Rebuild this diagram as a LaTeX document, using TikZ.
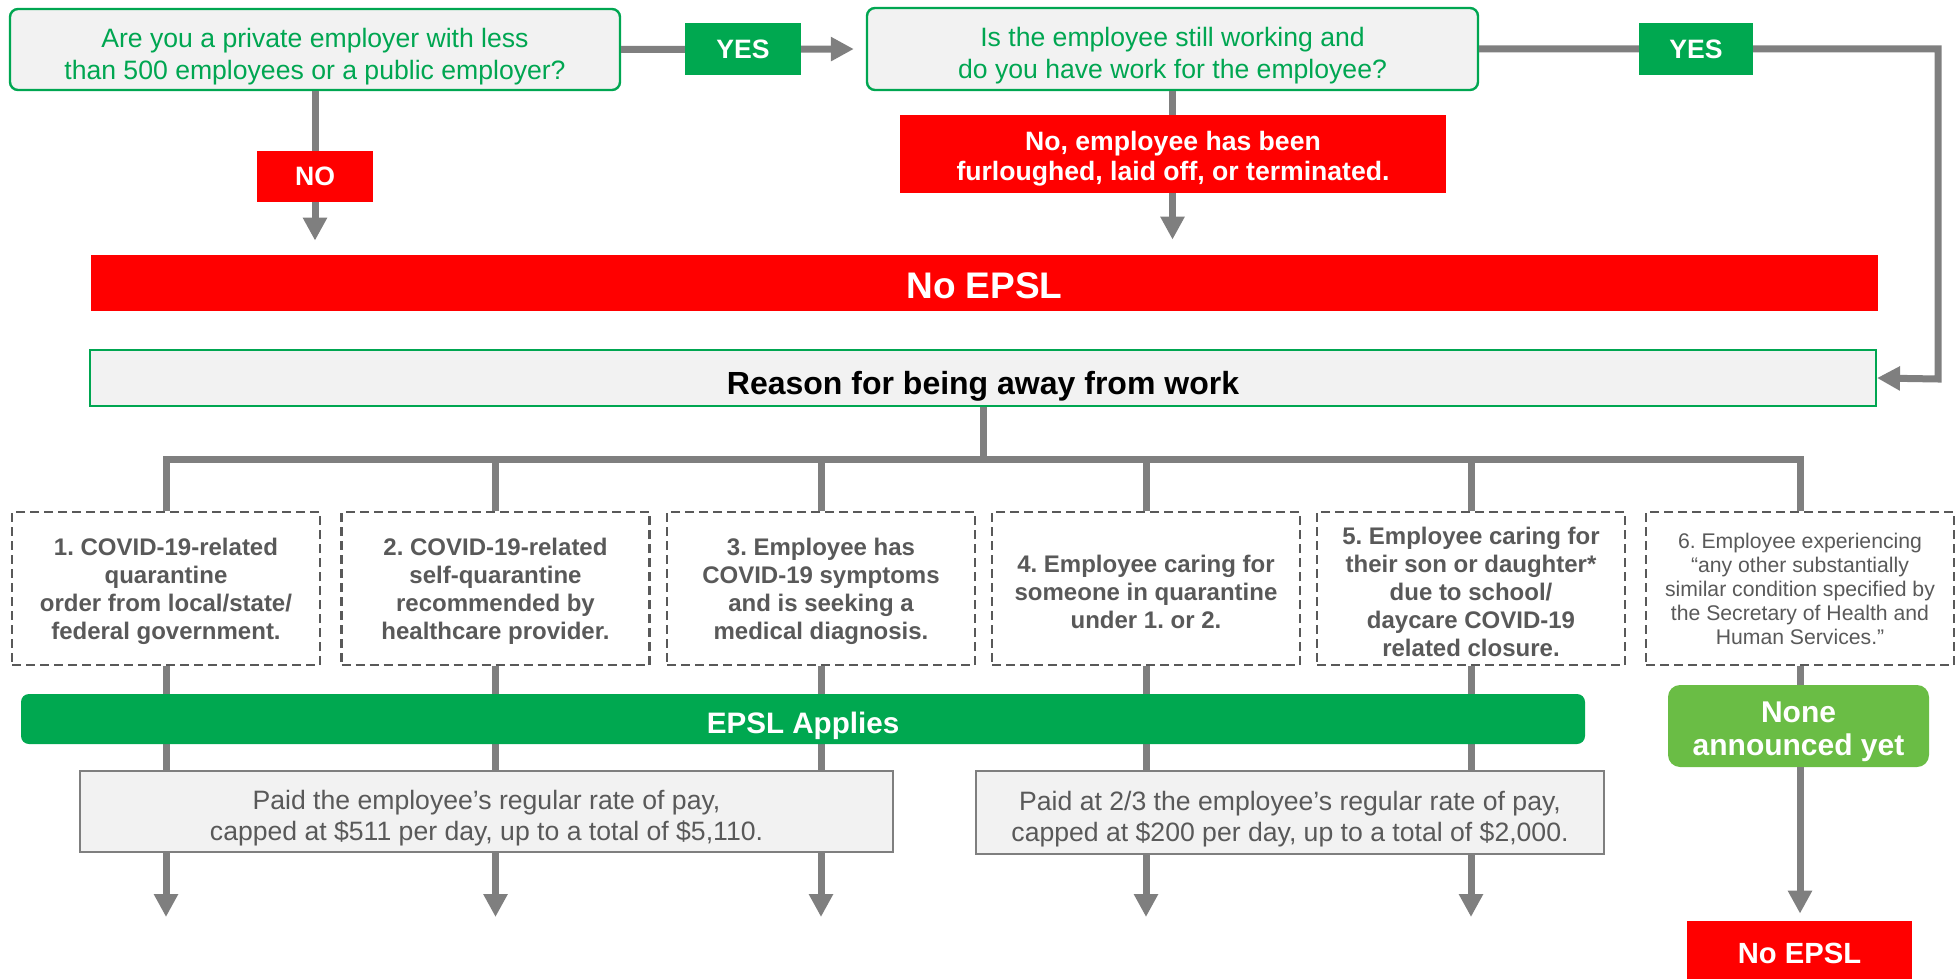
\documentclass[tikz,border=0pt]{standalone}
\usepackage{fontspec}
\setmainfont{Liberation Sans}
\frenchspacing
\usetikzlibrary{arrows.meta,shapes,calc,positioning}
\definecolor{qgreen}{RGB}{0,166,81}
\definecolor{okgreen}{RGB}{0,168,80}
\definecolor{lightgreen}{RGB}{106,189,69}
\definecolor{boxgray}{RGB}{242,242,242}
\definecolor{linegray}{RGB}{127,127,127}
\definecolor{textgray}{RGB}{89,89,89}
\tikzset{
  >={Triangle[length=11.5pt,width=11.5pt]}
}

\begin{document}
\begin{tikzpicture}[x=0.5pt,y=-0.5pt,
    conn/.style={draw=linegray,line width=3.5pt},
    toptext/.style={execute at begin node={\rule{0pt}{#1}}},
    qbox/.style={rectangle,rounded corners=4pt,draw=qgreen,line width=1.2pt,fill=boxgray,text=qgreen,align=center,inner sep=0pt,font=\fontsize{13.3}{16}\selectfont},
    redbox/.style={rectangle,fill=red,text=white,align=center,inner sep=0pt,font=\bfseries\fontsize{13.3}{15}\selectfont},
    yesbox/.style={rectangle,fill=okgreen,text=white,inner sep=0pt,minimum width=58pt,minimum height=26pt,font=\bfseries\fontsize{13.3}{15}\selectfont},
    reason/.style={rectangle,draw=textgray,dashed,dash pattern=on 4.5pt off 2.5pt,line width=1.2pt,fill=white,text=textgray,align=center,inner sep=0pt,minimum width=154pt,minimum height=76.5pt,font=\bfseries\fontsize{12}{14}\selectfont},
    paybox/.style={rectangle,draw=linegray,line width=1.2pt,fill=boxgray,text=textgray,align=center,inner sep=0pt,toptext=32pt,font=\fontsize{13.3}{15.5}\selectfont}
  ]
    \useasboundingbox (0,0) rectangle (1960,979);

    % questions
    \node (Q1) at (315,49.5) [qbox,toptext=32.7pt,minimum width=305pt,minimum height=40.5pt] {Are you a private employer with less\\than 500 employees or a public employer?};
    \node (Q2) at (1172.5,49) [qbox,toptext=32.7pt,minimum width=305.5pt,minimum height=41pt] {Is the employee still working and\\do you have work for the employee?};
    \node (NOBIG) at (984.5,283) [redbox,minimum width=893.5pt,minimum height=28pt,toptext=15.9pt,font=\bfseries\fontsize{18.5}{20}\selectfont] {No EPSL};
    \node (REASON) at (983,378) [qbox,line width=1pt,rounded corners=0pt,text=black,minimum width=893pt,minimum height=28pt,toptext=19.7pt,font=\bfseries\fontsize{16}{18}\selectfont] {Reason for being away from work};

    % reasons
    \node (R1) at (166,588.5) [reason,toptext=53.8pt] {1. COVID-19-related\\quarantine\\order from local/state/\\federal government.};
    \node (R2) at (495.5,588.5) [reason,toptext=53.8pt] {2. COVID-19-related\\self-quarantine\\recommended by\\healthcare provider.};
    \node (R3) at (821,588.5) [reason,toptext=53.8pt] {3. Employee has\\COVID-19 symptoms\\and is seeking a\\medical diagnosis.};
    \node (R4) at (1146,588.5) [reason,toptext=39.8pt] {4. Employee caring for\\someone in quarantine\\under 1. or 2.};
    \node (R5) at (1471,588.5) [reason,toptext=67.8pt] {5. Employee caring for\\their son or daughter*\\due to school/\\daycare COVID-19\\related closure.};
    \node (R6) at (1800,588.5) [reason,font=\fontsize{10.6}{12}\selectfont] {6. Employee experiencing\\“any other substantially\\similar condition specified by\\the Secretary of Health and\\Human Services.”};

    \node (NONE) at (1798.5,726) [rectangle,rounded corners=6pt,fill=lightgreen,text=white,align=center,inner sep=0pt,minimum width=130.5pt,minimum height=41pt,toptext=32.2pt,font=\bfseries\fontsize{15}{16.5}\selectfont] {None\\announced yet};
    \node (NOSMALL) at (1799.5,950.5) [redbox,minimum width=112.5pt,minimum height=29.5pt,toptext=13.6pt,font=\bfseries\fontsize{14.6}{16}\selectfont] {No EPSL};
    \coordinate (ENDS) at (0,917);

    % connectors
    \draw[conn,->,shorten >=6pt] (Q1.east) -- (Q2.west);
    \draw[conn,->,shorten >=7pt] (Q1.south) -- (Q1.south |- NOBIG.north);
    \draw[conn,->,shorten >=7.5pt] (Q2.south) -- (Q2.south |- NOBIG.north);
    \coordinate (TURN) at (1938,379);
    \draw[conn,->] (Q2.east) -| (TURN) -- (REASON.east);
    \draw[conn] (REASON.south) -- ++(0,-26pt) coordinate (BUS);
    \foreach \i in {1,...,6}
        \draw[conn] (BUS) -| (R\i.north);
    \foreach \i in {1,...,5}
        \draw[conn,->] (R\i.south) -- (R\i.south |- ENDS);
    \draw[conn] (R6.south) -- (R6.south |- NONE.north);
    \draw[conn,->,shorten >=3.5pt] (NONE.south -| R6.south) -- (R6.south |- NOSMALL.north);

    % labels over the connectors
    \node (YES1) at (743,49) [yesbox] {YES};
    \node (YES2) at (1696,49) [yesbox,minimum width=57pt] {YES};
    \node (NO1) at (315,176.5) [redbox,minimum width=58pt,minimum height=25.5pt] {NO};
    \node (NO2) at (1173,154) [redbox,minimum width=273pt,minimum height=39pt,toptext=29.1pt] {No, employee has been\\furloughed, laid off, or terminated.};
    \node (APPLY) at (803,719) [rectangle,rounded corners=4pt,fill=okgreen,text=white,inner sep=0pt,minimum width=782pt,minimum height=25pt,toptext=17.8pt,font=\bfseries\fontsize{14.8}{16}\selectfont] {EPSL Applies};
    \node (PAY1) at (486.5,811.5) [paybox,minimum width=406.5pt,minimum height=40.5pt] {Paid the employee’s regular rate of pay,\\capped at \$511 per day, up to a total of \$5,110.};
    \node (PAY2) at (1290,812.5) [paybox,minimum width=314pt,minimum height=41.5pt] {Paid at 2/3 the employee’s regular rate of pay,\\capped at \$200 per day, up to a total of \$2,000.};

  \end{tikzpicture}
\end{document}
